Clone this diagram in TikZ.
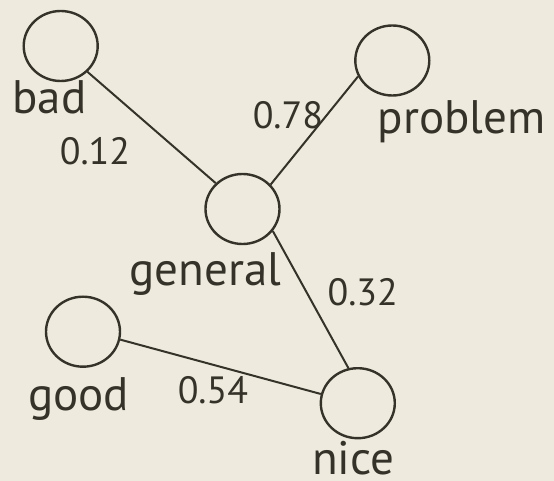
\documentclass[tikz,border=0pt]{standalone}
\usepackage{fontspec}
\setmainfont{PT Sans}
\usetikzlibrary{shapes.geometric}
\definecolor{paper}{RGB}{238,235,222}
\definecolor{ink}{RGB}{53,50,42}

\begin{document}
\begin{tikzpicture}[
        x=1pt, y=-1pt,
        vertex/.style={draw=ink, ellipse, line width=2.4pt,
            minimum width=74pt, minimum height=70pt, inner sep=0pt},
        word/.style={text=ink, anchor=base, inner sep=0pt,
            font=\fontsize{47}{50}\selectfont},
        weight/.style={text=ink, anchor=base, inner sep=0pt,
            font=\fontsize{38}{42}\selectfont},
        link/.style={draw=ink, line width=2pt}
    ]
        \fill[paper] (0,0) rectangle (554,481);
        \useasboundingbox (0,0) rectangle (554,481);

        \node[vertex] (bad) at (60.7,46) {};
        \node[vertex] (problem) at (392.3,60.5) {};
        \node[vertex] (general) at (242.5,209) {};
        \node[vertex] (good) at (83,331.7) {};
        \node[vertex] (nice) at (357.8,403.2) {};

        \node[word] (bad-text) at (49.5,113.3) {bad};
        \node[word] (problem-text) at (461.7,133.3) {problem};
        \node[word] (general-text) at (205.5,285.7) {general};
        \node[word] (good-text) at (78.6,410.7) {good};
        \node[word] (nice-text) at (353.4,474) {nice};

        \draw[link] (bad.316) -- (general.136);
        \draw[link] (general.41) -- (problem.205);
        \draw[link] (general.324) -- (nice.105);
        \draw[link] (good.348) -- (nice.166);

        \node[weight] (w-bad) at (95,165) {0.12};
        \node[weight] (w-problem) at (287.9,128.3) {0.78};
        \node[weight] (w-nice) at (362.7,305) {0.32};
        \node[weight] (w-good) at (212.9,403.3) {0.54};
    \end{tikzpicture}
\end{document}
